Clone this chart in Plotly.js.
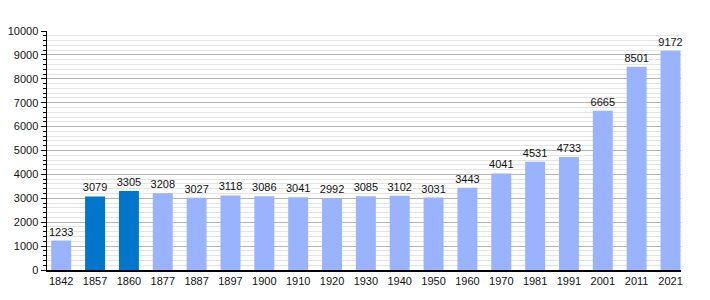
<!DOCTYPE html>
<html><head><meta charset="utf-8">
<script src="https://cdn.plot.ly/plotly-3.0.1.min.js"></script>
<style>body{margin:0;background:#fff}#c{width:710px;height:300px}</style>
</head><body><div id="c"></div>
<script>
const years = ["1842","1857","1860","1877","1887","1897","1900","1910","1920","1930","1940","1950","1960","1970","1981","1991","2001","2011","2021"];
const population = [1233,3079,3305,3208,3027,3118,3086,3041,2992,3085,3102,3031,3443,4041,4531,4733,6665,8501,9172];
const highlighted = ["1857","1860"];
const colors = years.map(y => highlighted.includes(y) ? "#0077cc" : "#99b3ff");
Plotly.newPlot("c", [{
  type: "bar", x: years, y: population,
  marker: {color: colors},
  text: population.map(String), textposition: "outside", cliponaxis: false, constraintext: "none",
  textfont: {family: "Liberation Sans, Arial, sans-serif", size: 11, color: "#111"},
  hoverinfo: "none"
}], {
  width: 710, height: 300,
  margin: {l: 47, r: 29, t: 31, b: 30},
  paper_bgcolor: "#fff", plot_bgcolor: "#fff",
  bargap: 0.41, showlegend: false,
  font: {family: "Liberation Sans, Arial, sans-serif", size: 11, color: "#111"},
  xaxis: {type: "category", range: [-0.42, 18.31], showline: true, linecolor: "#000", linewidth: 1.5, ticks: "", showgrid: false, tickfont: {size: 11, color: "#111"}},
  yaxis: {range: [0, 10000], dtick: 1000, tickformat: "d", showline: true, linecolor: "#000", linewidth: 1.5,
    ticks: "outside", ticklen: 5, tickcolor: "#000", gridcolor: "#b4b4b4", zeroline: false, tickfont: {size: 11, color: "#111"},
    minor: {dtick: 200, ticks: "outside", ticklen: 3, tickcolor: "#000", showgrid: true, gridcolor: "#e4e4e4"}}
}, {staticPlot: true});
</script></body></html>
